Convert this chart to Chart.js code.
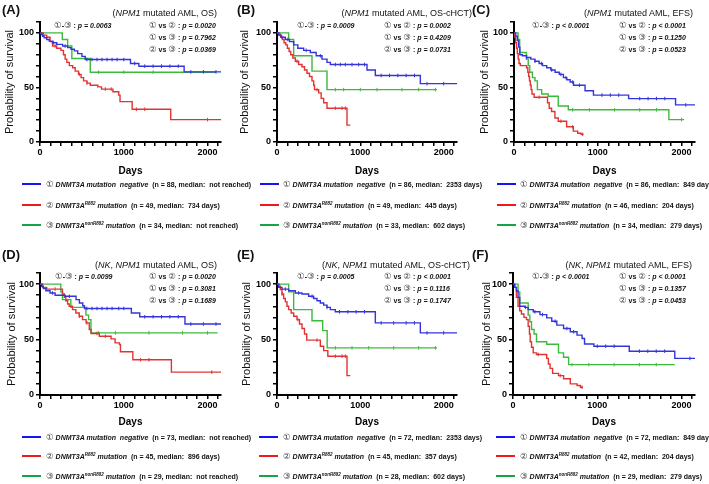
<!DOCTYPE html>
<html>
<head>
<meta charset="utf-8">
<script src="https://cdn.jsdelivr.net/npm/chart.js@4.4.0/dist/chart.umd.min.js"></script>
<style>
  body { margin: 0; background: #fff; }
  #fig { position: relative; width: 709px; height: 484px; overflow: hidden; font-family: "Liberation Sans", Arial, sans-serif; color: #111; }
  canvas { position: absolute; }
  .t { position: absolute; white-space: pre; line-height: 1; }
  .lab { font-weight: bold; font-size: 13px; }
  .ttl { font-size: 9px; }
  .pv { font-size: 7px; font-weight: bold; }
  .lg { font-size: 7px; font-weight: bold; }
  .c { font-family: "DejaVu Sans", sans-serif; font-size: 8.5px; font-weight: normal; color: #444; font-style: normal; }
  sup { font-size: 4.5px; vertical-align: 3px; line-height: 0; }
  .sw { position: absolute; height: 2.5px; width: 19px; }
</style>
</head>
<body>
<div id="fig"></div>
<script>
// Kaplan-Meier steps: [day, survival %], one array per curve
const aBlue = [[0,100],[15,98.5],[30,97],[50,95.5],[80,94],[110,92.5],[150,91],[200,89.5],[270,88],[330,86.5],[370,85],[410,83.5],[450,81],[500,78.5],[540,75.6],[1080,72],[1180,69.5],[1720,64.3],[2160,64.3]];
const aRed = [[0,100],[40,98],[80,96],[120,92],[150,88],[200,86],[250,84],[280,80],[300,76],[320,73],[350,70],[390,68],[420,65],[460,62],[490,59],[520,56],[560,54],[600,52],[690,50.5],[734,48.5],[870,46],[940,43],[955,37],[1100,30],[1560,20.5],[2160,20.5]];
const aGreen = [[0,100],[266,94],[330,88],[380,76.5],[600,64],[2100,64]];
const aBlueC = [160,300,560,620,680,740,800,860,920,1000,1130,1250,1350,1450,1550,1650,1800,1950,2100];
const aRedC = [180,470,560,780,850,1150,1250,2000];
const aGreenC = [700,1000,1350];

const bBlue = [[0,100],[20,98],[50,96],[100,94],[150,92],[200,89],[250,86],[320,84],[400,82],[470,79],[540,76],[600,73],[640,71],[1080,66],[1180,61],[1720,53.5],[2160,53.5]];
const bRed = [[0,100],[25,98],[45,96],[65,94],[85,91],[105,89],[125,86],[145,83],[165,80],[190,77],[220,74],[260,71],[300,69],[330,66],[360,63],[390,60],[420,56],[440,52],[450,48],[500,45],[530,40],[560,36],[600,31],[840,15.5],[880,15.5]];
const bGreen = [[0,100],[140,94],[200,79],[420,65],[600,48],[1920,48]];
const bBlueC = [60,130,350,520,700,760,820,900,980,1050,1250,1350,1450,1550,1650,1800,2000];
const bRedC = [40,240,480,700,780,820];
const bGreenC = [700,800,1000,1200,1500,1700,1900];

const cBlue = [[0,100],[20,97],[40,93],[55,87],[70,80],[100,79],[150,77.5],[200,76],[250,74],[300,72],[340,70],[390,68],[440,66],[490,64],[540,62],[590,59],[630,57],[670,55],[710,52],[848,47],[948,43],[1368,39.8],[1928,34],[2160,34]];
const cRed = [[0,100],[10,96],[20,91],[30,86],[40,81],[50,76],[60,72],[75,70],[150,68],[165,64],[175,60],[185,56],[195,52],[204,48],[215,44],[240,41],[400,36],[420,31],[448,28],[488,22],[528,19],[628,14],[708,10],[760,8],[800,7],[830,7]];
const cGreen = [[0,100],[48,94],[68,82],[148,76],[170,70],[188,64],[220,59],[250,56],[279,48],[330,44],[408,42],[528,33],[648,29.5],[1848,20.5],[2030,20.5]];
const cBlueC = [150,250,330,450,560,620,700,780,1050,1150,1250,1500,1600,1700,1800,2050];
const cRedC = [300,560,700,820];
const cGreenC = [700,900,1200,1500,1700,2000];

const dBlue = [[0,100],[20,98],[40,96],[70,94],[120,92],[180,90],[300,89],[430,86],[470,83],[510,80.5],[530,78],[1090,74],[1190,70.5],[1730,64],[2160,64]];
const dRed = [[0,100],[30,97],[80,95.5],[268,91],[290,88],[308,85],[330,82],[348,80],[388,77],[428,74],[468,71],[508,68],[550,65],[588,59],[610,55.5],[708,53],[848,50.6],[896,47],[948,45.5],[960,39],[1108,31.8],[1568,20.6],[2160,20.6]];
const dGreen = [[0,100],[248,93],[268,86],[368,79],[548,72],[580,68],[608,56],[2120,56]];
const dBlueC = [150,350,560,620,680,740,800,860,940,1000,1250,1350,1450,1550,1650,1800,1950,2100];
const dRedC = [180,470,560,680,780,1200,1300,2050];
const dGreenC = [700,900,1300,1700,2000];

const eBlue = [[0,100],[20,97],[60,95.5],[140,94],[220,92],[300,91],[380,89],[440,87],[480,85],[520,83],[560,81],[600,79],[640,77],[700,75],[1180,65],[1720,56],[2160,56]];
const eRed = [[0,100],[20,98],[40,95],[60,91],[80,87],[100,84],[120,80],[140,77],[170,74],[200,71],[240,68],[270,64],[300,60],[330,55],[357,49.5],[520,44],[560,40],[610,35],[840,17.5],[880,17.5]];
const eGreen = [[0,100],[140,93],[200,77],[420,67],[548,58],[602,42.5],[1920,42.5]];
const eBlueC = [100,260,420,600,750,850,950,1050,1250,1400,1550,1650,1800,2000];
const eRedC = [60,250,480,700,780,820];
const eGreenC = [700,900,1100,1400,1700,1900];

const fBlue = [[0,100],[20,97],[40,94],[60,88],[80,80],[140,79],[180,77],[240,75],[320,72.5],[400,69.5],[460,66.5],[520,63],[600,60],[680,57],[760,54],[820,51],[849,46],[960,44],[1380,39.5],[1920,33],[2160,33]];
const fRed = [[0,100],[20,97],[40,88],[60,80],[80,76],[100,73],[130,70],[160,68],[180,62],[195,55],[204,48],[220,43],[240,38],[280,36.5],[400,33],[420,28],[440,24],[470,19.5],[540,17.5],[600,14.6],[680,10],[760,8.5],[800,7],[830,7]];
const fGreen = [[0,100],[60,93],[80,83],[180,72],[200,66],[220,59],[250,55],[279,48],[400,45.7],[540,38],[600,34],[660,27.4],[1920,27.4]];
const fBlueC = [150,260,350,500,640,720,1000,1100,1200,1500,1600,1700,1800,2100];
const fRedC = [300,560,820];
const fGreenC = [700,900,1200,1500,1700];

// axis ticks
const xTickValues = [0,125,250,375,500,625,750,875,1000,1125,1250,1375,1500,1625,1750,1875,2000,2125];
const xLabelValues = [0,1000,2000];
const yTickValues = [0,10,20,30,40,50,60,70,80,90,100,110];
const yLabelValues = [0,50,100];

// texts
const panelLetters = ['(A)','(B)','(C)','(D)','(E)','(F)'];
const titles = ['(<i>NPM1</i> mutated AML, OS)','(<i>NPM1</i> mutated AML, OS-cHCT)','(<i>NPM1</i> mutated AML, EFS)',
  '(<i>NK</i>, <i>NPM1</i> mutated AML, OS)','(<i>NK</i>, <i>NPM1</i> mutated AML, OS-cHCT)','(<i>NK</i>, <i>NPM1</i> mutated AML, EFS)'];
const pOverall = ['p = 0.0063','p = 0.0009','p < 0.0001','p = 0.0099','p = 0.0005','p < 0.0001'];
const p12 = ['p = 0.0020','p = 0.0002','p < 0.0001','p = 0.0020','p < 0.0001','p < 0.0001'];
const p13 = ['p = 0.7962','p = 0.4209','p = 0.1250','p = 0.3081','p = 0.1116','p = 0.1357'];
const p23 = ['p = 0.0369','p = 0.0731','p = 0.0523','p = 0.1689','p = 0.1747','p = 0.0453'];
const nNeg = [88,86,86,73,72,72];
const nR882 = [49,49,46,45,45,42];
const nNon = [34,33,34,29,28,29];
const medNeg = ['not reached','2353 days','849 days','not reached','2353 days','849 days'];
const medR882 = ['734 days','445 days','204 days','896 days','357 days','204 days'];
const medNon = ['not reached','602 days','279 days','not reached','602 days','279 days'];
const groupNames = ['<i>DNMT3A mutation  negative</i>','<i>DNMT3A<sup>R882</sup> mutation</i>','<i>DNMT3A<sup>nonR882</sup> mutation</i>'];
const circled = ['①','②','③'];

const curveColors = ['#3434dc','#e03434','#3cba3c'];
const legendColors = ['#1414f5','#f01818','#14a544'];

const curves = [[aBlue,aRed,aGreen],[bBlue,bRed,bGreen],[cBlue,cRed,cGreen],[dBlue,dRed,dGreen],[eBlue,eRed,eGreen],[fBlue,fRed,fGreen]];
const censors = [[aBlueC,aRedC,aGreenC],[bBlueC,bRedC,bGreenC],[cBlueC,cRedC,cGreenC],[dBlueC,dRedC,dGreenC],[eBlueC,eRedC,eGreenC],[fBlueC,fRedC,fGreenC]];

// where each panel sits on the page
const layout = [
  {left:0,   top:0,   w:235, h:180, yw:40, pt:22, pr:14, xh:38, ytp:3.4, letY:8.5, titR:217, titY:12.5, pL:54,  pR:149, pY:[25,37,49], lgL:22,  lgT:46,  lgY:[184,205,225]},
  {left:235, top:0,   w:235, h:180, yw:42, pt:22, pr:13, xh:38, ytp:3.4, letY:8.5, titR:472, titY:12.5, pL:297, pR:384, pY:[25,37,49], lgL:260, lgT:283, lgY:[184,205,225]},
  {left:470, top:0,   w:239, h:180, yw:44, pt:22, pr:14, xh:38, ytp:8.4, letY:8.5, titR:693, titY:12.5, pL:532, pR:619, pY:[25,37,49], lgL:497, lgT:520, lgY:[184,205,225]},
  {left:0,   top:250, w:235, h:181, yw:40, pt:23, pr:14, xh:36, ytp:5,   letY:254, titR:217, titY:265, pL:55,  pR:149, pY:[275.5,287.5,300], lgL:22,  lgT:46,  lgY:[437,456,476]},
  {left:235, top:250, w:235, h:181, yw:42, pt:23, pr:13, xh:36, ytp:5,   letY:254, titR:470, titY:265, pL:297, pR:384, pY:[275.5,287.5,300], lgL:259, lgT:283, lgY:[437,456,476]},
  {left:470, top:250, w:239, h:181, yw:43, pt:23, pr:14, xh:36, ytp:10,  letY:254, titR:692, titY:265, pL:532, pR:619, pY:[275.5,287.5,300], lgL:496, lgT:520, lgY:[437,456,476]}
];

const fig = document.getElementById('fig');
const tickFont = {family: 'Liberation Sans', size: 9, weight: 'bold'};

// survival value of a step curve at day t
function stepAt(curve, t) {
  let s = curve[0][1];
  for (const p of curve) { if (p[0] <= t) s = p[1]; }
  return s;
}

function put(html, x, y, cls, right) {
  const d = document.createElement('div');
  d.className = 't ' + cls;
  d.innerHTML = html;
  d.style.left = x + 'px';
  d.style.top = y + 'px';
  d.style.transform = right ? 'translate(-100%,-50%)' : 'translate(0,-50%)';
  fig.appendChild(d);
}

layout.forEach((p, k) => {
  const cv = document.createElement('canvas');
  cv.width = p.w; cv.height = p.h;
  cv.style.left = p.left + 'px'; cv.style.top = p.top + 'px';
  fig.appendChild(cv);

  const datasets = [];
  curves[k].forEach((c, i) => {
    datasets.push({
      data: c.map(d => ({x: d[0], y: d[1]})),
      borderColor: curveColors[i], borderWidth: 1.4,
      stepped: 'before', pointRadius: 0, fill: false
    });
    datasets.push({
      data: censors[k][i].map(t => ({x: t, y: stepAt(c, t)})),
      showLine: false, pointStyle: 'line', pointRotation: 90,
      pointRadius: 1.8, pointBorderWidth: 1, pointBorderColor: curveColors[i]
    });
  });

  new Chart(cv, {
    type: 'line',
    data: {datasets: datasets},
    options: {
      responsive: false, animation: false, events: [],
      layout: {padding: {top: p.pt, right: p.pr, left: 0, bottom: 0}},
      plugins: {legend: {display: false}, tooltip: {enabled: false}},
      scales: {
        x: {
          type: 'linear', min: 0, max: 2160,
          afterFit: s => { s.height = p.xh; },
          afterBuildTicks: s => { s.ticks = xTickValues.map(v => ({value: v})); },
          ticks: {autoSkip: false, maxRotation: 0, padding: 1, color: '#000', font: tickFont,
                  callback: v => xLabelValues.includes(v) ? String(v) : ''},
          grid: {drawOnChartArea: false, color: '#000', lineWidth: 1.5, tickLength: 4},
          border: {color: '#000', width: 2},
          title: {display: true, text: 'Days', color: '#000', padding: {top: 0, bottom: 3},
                  font: {family: 'Liberation Sans', size: 10, weight: 'bold'}}
        },
        y: {
          min: 0, max: 110,
          afterFit: s => { s.width = p.yw; },
          afterBuildTicks: s => { s.ticks = yTickValues.map(v => ({value: v})); },
          ticks: {autoSkip: false, padding: 2, color: '#000', font: tickFont,
                  callback: v => yLabelValues.includes(v) ? String(v) : ''},
          grid: {drawOnChartArea: false, color: '#000', lineWidth: 1.5, tickLength: 4},
          border: {color: '#000', width: 2},
          title: {display: true, text: 'Probability of survival', color: '#111', padding: {top: p.ytp, bottom: 0},
                  font: {family: 'Liberation Sans', size: 11}}
        }
      }
    }
  });

  // panel letter, title, p-values
  put(panelLetters[k], p.left + 2, p.letY, 'lab');
  put(titles[k], p.titR, p.titY, 'ttl', true);
  const c = i => '<span class="c">' + circled[i] + '</span>';
  put(c(0) + '-' + c(2) + ' : <i>' + pOverall[k] + '</i>', p.pL, p.pY[0], 'pv');
  put(c(0) + ' vs ' + c(1) + ' : <i>' + p12[k] + '</i>', p.pR, p.pY[0], 'pv');
  put(c(0) + ' vs ' + c(2) + ' : <i>' + p13[k] + '</i>', p.pR, p.pY[1], 'pv');
  put(c(1) + ' vs ' + c(2) + ' : <i>' + p23[k] + '</i>', p.pR, p.pY[2], 'pv');

  // legend
  const ns = [nNeg[k], nR882[k], nNon[k]];
  const meds = [medNeg[k], medR882[k], medNon[k]];
  for (let i = 0; i < 3; i++) {
    const sw = document.createElement('div');
    sw.className = 'sw';
    sw.style.left = p.lgL + 'px';
    sw.style.top = (p.lgY[i] - 1.25) + 'px';
    sw.style.background = legendColors[i];
    fig.appendChild(sw);
    put(c(i) + ' ' + groupNames[i] + '  (n = ' + ns[i] + ', median:  ' + meds[i] + ')', p.lgT, p.lgY[i], 'lg');
  }
});
</script>
</body>
</html>
